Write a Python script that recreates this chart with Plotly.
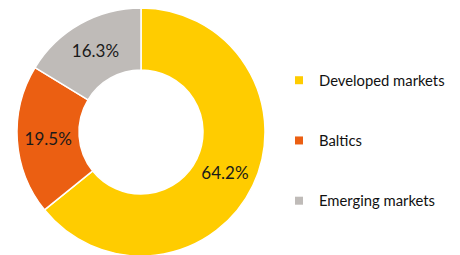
import plotly.graph_objects as go

labels = ["Developed markets", "Baltics", "Emerging markets"]
values = [64.2, 19.5, 16.3]
colors = ["#FFCC00", "#EB5F12", "#BFBBB8"]

FONT = "Lato, Carlito, 'Open Sans', sans-serif"
W, H = 460, 255

fig = go.Figure()
fig.add_trace(go.Pie(
    labels=labels, values=values, hole=0.5, sort=False, direction="clockwise",
    rotation=0,
    marker=dict(colors=colors, line=dict(color="white", width=1.5)),
    texttemplate="%{value:.1f}%", textposition="inside",
    insidetextorientation="horizontal",
    textfont=dict(family=FONT, size=17, color="#1a1a1a"),
    showlegend=False, hoverinfo="label+value",
    domain=dict(x=[8/W, 258/W], y=[7/H, 1]),
))
for lab, col in zip(labels, colors):
    fig.add_trace(go.Scatter(
        x=[None], y=[None], mode="markers", name=lab, legendgroup=lab,
        marker=dict(symbol="square", size=8, color=col),
    ))

fig.update_layout(
    width=W, height=H,
    margin=dict(l=0, r=0, t=0, b=0, autoexpand=False),
    paper_bgcolor="white", plot_bgcolor="white",
    xaxis=dict(visible=False), yaxis=dict(visible=False),
    legend=dict(x=271/W, y=0.48, xanchor="left", yanchor="middle",
                font=dict(family=FONT, size=14.8, color="#111111"),
                tracegroupgap=38, itemwidth=30),
)
fig.write_html("out.html")
